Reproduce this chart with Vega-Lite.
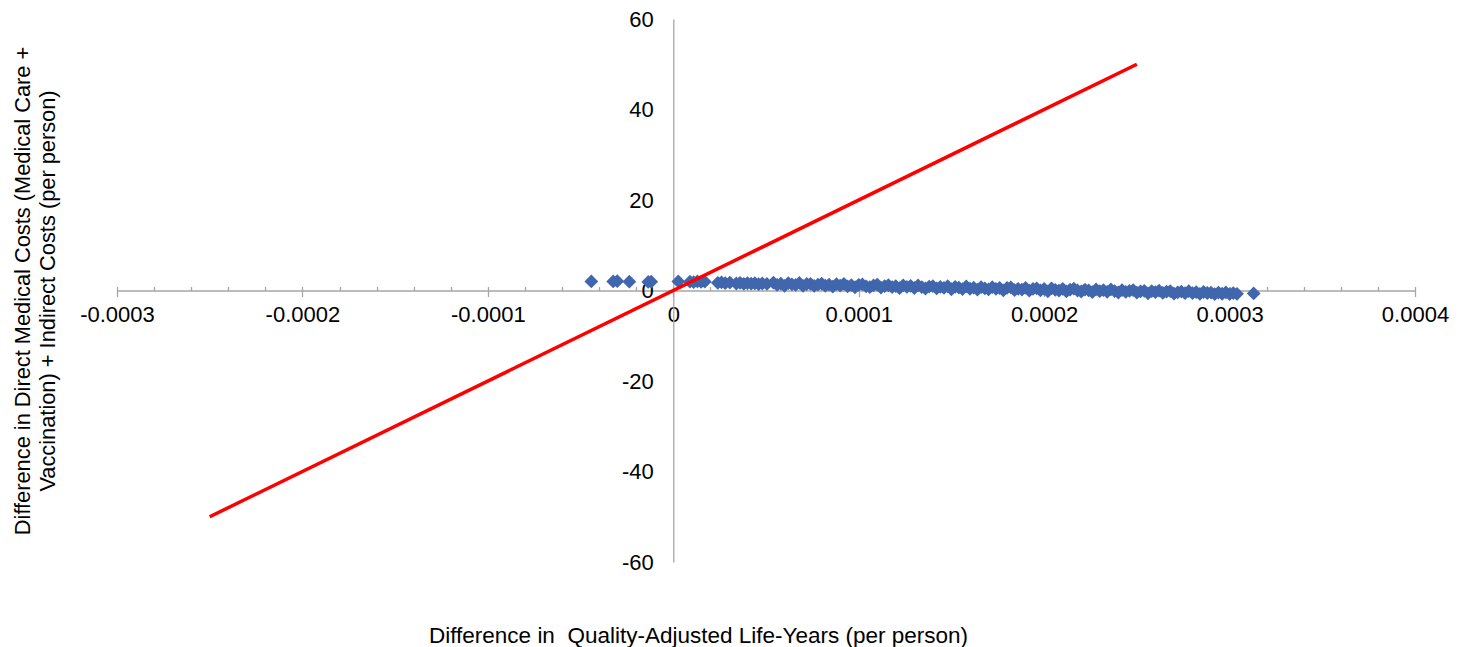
{
  "$schema": "https://vega.github.io/schema/vega-lite/v6.json",
  "width": 1298,
  "height": 543,
  "autosize": {"type": "none"},
  "padding": {"left": 117, "top": 19, "right": 54, "bottom": 85},
  "background": "white",
  "config": {"view": {"stroke": null}, "font": "Liberation Sans"},
  "datasets": {
    "pts": [
      {"x": -0.0000442, "y": 2.0}, {"x": -0.0000324, "y": 2.0}, {"x": -0.0000302, "y": 2.05}, {"x": -0.0000237, "y": 1.95},
      {"x": -0.0000135, "y": 1.9}, {"x": -0.0000119, "y": 1.95}, {"x": 0.0000027, "y": 2.0},
      {"x": 0.000009, "y": 1.95}, {"x": 0.000011, "y": 1.85}, {"x": 0.000013, "y": 2.0}, {"x": 0.000015, "y": 1.9}, {"x": 0.000017, "y": 1.95},
      {"x": 0.000024, "y": 1.7}, {"x": 0.000026, "y": 1.8}, {"x": 0.000028, "y": 1.65}, {"x": 0.0000305, "y": 1.75},
      {"x": 0.000034, "y": 1.55}, {"x": 0.000036, "y": 1.7}, {"x": 0.000038, "y": 1.45}, {"x": 0.00004, "y": 1.65},
      {"x": 0.000042, "y": 1.5}, {"x": 0.000044, "y": 1.6}, {"x": 0.000046, "y": 1.4}, {"x": 0.000048, "y": 1.55}, {"x": 0.0000505, "y": 1.45},
      {"x": 0.000054, "y": 1.74}, {"x": 0.000056, "y": 1.22}, {"x": 0.000058, "y": 1.51}, {"x": 0.00006, "y": 1.04},
      {"x": 0.000062, "y": 1.62}, {"x": 0.000064, "y": 1.36}, {"x": 0.000066, "y": 1.24}, {"x": 0.000068, "y": 1.67},
      {"x": 0.00007, "y": 1.01}, {"x": 0.000072, "y": 1.44}, {"x": 0.000074, "y": 1.47}, {"x": 0.000076, "y": 1.0},
      {"x": 0.000078, "y": 1.29}, {"x": 0.00008, "y": 1.52}, {"x": 0.000082, "y": 1.05}, {"x": 0.000084, "y": 1.29},
      {"x": 0.000086, "y": 0.87}, {"x": 0.000088, "y": 1.4}, {"x": 0.00009, "y": 1.09}, {"x": 0.000092, "y": 1.47},
      {"x": 0.000094, "y": 0.9}, {"x": 0.000096, "y": 1.18}, {"x": 0.000098, "y": 0.72}, {"x": 0.0001, "y": 1.25},
      {"x": 0.000102, "y": 1.33}, {"x": 0.000104, "y": 0.92}, {"x": 0.000106, "y": 0.75}, {"x": 0.000108, "y": 1.13},
      {"x": 0.00011, "y": 1.32}, {"x": 0.000112, "y": 0.65}, {"x": 0.000114, "y": 0.98}, {"x": 0.000116, "y": 1.16},
      {"x": 0.000118, "y": 0.75}, {"x": 0.00012, "y": 0.98}, {"x": 0.000122, "y": 0.51}, {"x": 0.000124, "y": 1.15},
      {"x": 0.000126, "y": 0.78}, {"x": 0.000128, "y": 1.01}, {"x": 0.00013, "y": 0.55}, {"x": 0.000132, "y": 1.13},
      {"x": 0.000134, "y": 0.76}, {"x": 0.000136, "y": 0.44}, {"x": 0.000138, "y": 0.88}, {"x": 0.00014, "y": 0.96},
      {"x": 0.000142, "y": 0.49}, {"x": 0.000144, "y": 0.78}, {"x": 0.000146, "y": 0.56}, {"x": 0.000148, "y": 0.94},
      {"x": 0.00015, "y": 0.28}, {"x": 0.000152, "y": 0.81}, {"x": 0.000154, "y": 0.64}, {"x": 0.000156, "y": 0.32},
      {"x": 0.000158, "y": 0.91}, {"x": 0.00016, "y": 0.39}, {"x": 0.000162, "y": 0.62}, {"x": 0.000164, "y": 0.21},
      {"x": 0.000166, "y": 0.74}, {"x": 0.000168, "y": 0.47}, {"x": 0.00017, "y": 0.26}, {"x": 0.000172, "y": 0.74},
      {"x": 0.000174, "y": 0.37}, {"x": 0.000176, "y": 0.55}, {"x": 0.000178, "y": 0.04}, {"x": 0.00018, "y": 0.57},
      {"x": 0.000182, "y": 0.7}, {"x": 0.000184, "y": 0.09}, {"x": 0.000186, "y": 0.37}, {"x": 0.000188, "y": 0.2},
      {"x": 0.00019, "y": 0.59}, {"x": 0.000192, "y": -0.03}, {"x": 0.000194, "y": 0.35}, {"x": 0.000196, "y": 0.48},
      {"x": 0.000198, "y": 0.02}, {"x": 0.0002, "y": 0.35}, {"x": 0.000202, "y": -0.17}, {"x": 0.000204, "y": 0.47},
      {"x": 0.000206, "y": 0.15}, {"x": 0.000208, "y": -0.02}, {"x": 0.00021, "y": 0.37}, {"x": 0.000212, "y": -0.2},
      {"x": 0.000214, "y": 0.18}, {"x": 0.000216, "y": 0.41}, {"x": 0.000218, "y": 0.0}, {"x": 0.00022, "y": -0.22},
      {"x": 0.000222, "y": 0.21}, {"x": 0.000224, "y": 0.05}, {"x": 0.000226, "y": -0.37}, {"x": 0.000228, "y": 0.26},
      {"x": 0.00023, "y": -0.16}, {"x": 0.000232, "y": 0.08}, {"x": 0.000234, "y": -0.29}, {"x": 0.000236, "y": 0.24},
      {"x": 0.000238, "y": -0.12}, {"x": 0.00024, "y": -0.44}, {"x": 0.000242, "y": 0.09}, {"x": 0.000244, "y": -0.32},
      {"x": 0.000246, "y": -0.09}, {"x": 0.000248, "y": 0.09}, {"x": 0.00025, "y": -0.48}, {"x": 0.000252, "y": -0.19},
      {"x": 0.000254, "y": -0.06}, {"x": 0.000256, "y": -0.63}, {"x": 0.000258, "y": -0.14}, {"x": 0.00026, "y": -0.36},
      {"x": 0.000262, "y": -0.03}, {"x": 0.000264, "y": -0.54}, {"x": 0.000266, "y": -0.26}, {"x": 0.000268, "y": -0.13},
      {"x": 0.00027, "y": -0.7}, {"x": 0.000272, "y": -0.41}, {"x": 0.000274, "y": -0.23}, {"x": 0.000276, "y": -0.6},
      {"x": 0.000278, "y": -0.16}, {"x": 0.00028, "y": -0.58}, {"x": 0.000282, "y": -0.35}, {"x": 0.000284, "y": -0.76},
      {"x": 0.000286, "y": -0.33}, {"x": 0.000288, "y": -0.55}, {"x": 0.00029, "y": -0.47}, {"x": 0.000292, "y": -0.78},
      {"x": 0.000294, "y": -0.45}, {"x": 0.000296, "y": -0.72}, {"x": 0.000298, "y": -0.43}, {"x": 0.0003, "y": -0.8},
      {"x": 0.000302, "y": -0.57}, {"x": 0.000304, "y": -0.73}, {"x": 0.000313, "y": -0.65}
    ],
    "ref": [
      {"x": -0.00025, "y": -50},
      {"x": 0.00025, "y": 50}
    ]
  },
  "layer": [
    {
      "data": {"name": "pts"},
      "mark": {"type": "point", "shape": "diamond", "filled": true, "size": 190, "color": "#4066ad", "opacity": 1},
      "encoding": {
        "x": {
          "field": "x", "type": "quantitative",
          "scale": {"domain": [-0.0003, 0.0004], "nice": false, "zero": false},
          "axis": {
            "values": [-0.0003, -0.0002, -0.0001, 0, 0.0001, 0.0002, 0.0003, 0.0004],
            "labelExpr": "datum.value == 0 ? '0' : replace(format(datum.value, '.4f'), '−', '-')",
            "labelFlush": false, "labelOverlap": false,
            "offset": -271.5,
            "grid": false,
            "domainColor": "#a6a6a6", "domainWidth": 1.3,
            "ticks": true, "tickSize": 6, "tickColor": "#a6a6a6", "tickWidth": 1.3,
            "labelFontSize": 22, "labelColor": "#000000", "labelPadding": 8, "labelFont": "Liberation Sans",
            "title": "Difference in\u00a0 Quality-Adjusted Life-Years (per person)",
            "titleFontSize": 22.5, "titleFontWeight": "normal", "titleColor": "#000000", "titleFont": "Liberation Sans",
            "titleX": 581, "titleY": 344.5, "titleAlign": "center", "titleBaseline": "middle", "titleAnchor": null
          }
        },
        "y": {
          "field": "y", "type": "quantitative",
          "scale": {"domain": [-60, 60], "nice": false, "zero": false},
          "axis": {
            "values": [-60, -40, -20, 0, 20, 40, 60],
            "labelExpr": "replace(datum.label, '−', '-')",
            "labelFlush": false, "labelOverlap": false,
            "offset": -556.29,
            "grid": false,
            "domainColor": "#a6a6a6", "domainWidth": 1.3,
            "ticks": false, "tickSize": 0,
            "labelFontSize": 22, "labelColor": "#000000", "labelPadding": 20, "labelFont": "Liberation Sans",
            "title": ["Difference in Direct Medical Costs (Medical Care +", "Vaccination) + Indirect Costs (per person)"],
            "titleFontSize": 21.8, "titleFontWeight": "normal", "titleColor": "#000000", "titleFont": "Liberation Sans",
            "titleLineHeight": 25,
            "titleAngle": -90, "titleX": -651, "titleY": 271.5, "titleAlign": "center", "titleBaseline": "middle", "titleAnchor": null
          }
        }
      }
    },
    {
      "data": {"name": "ref"},
      "mark": {"type": "line", "color": "#ff0000", "strokeWidth": 3.5},
      "encoding": {
        "x": {
          "field": "x", "type": "quantitative",
          "axis": {
            "values": [-0.0003, -0.00028, -0.00026, -0.00024, -0.00022, -0.0002, -0.00018, -0.00016, -0.00014, -0.00012, -0.0001, -0.00008, -0.00006, -0.00004, -0.00002, 0, 0.00002, 0.00004, 0.00006, 0.00008, 0.0001, 0.00012, 0.00014, 0.00016, 0.00018, 0.0002, 0.00022, 0.00024, 0.00026, 0.00028, 0.0003, 0.00032, 0.00034, 0.00036, 0.00038, 0.0004],
            "labels": false, "domain": false, "grid": false,
            "ticks": true, "tickSize": 4, "tickColor": "#a6a6a6", "tickWidth": 1.3,
            "offset": -271.5, "title": null
          }
        },
        "y": {"field": "y", "type": "quantitative", "axis": null}
      }
    }
  ],
  "resolve": {"axis": {"x": "independent", "y": "independent"}}
}
